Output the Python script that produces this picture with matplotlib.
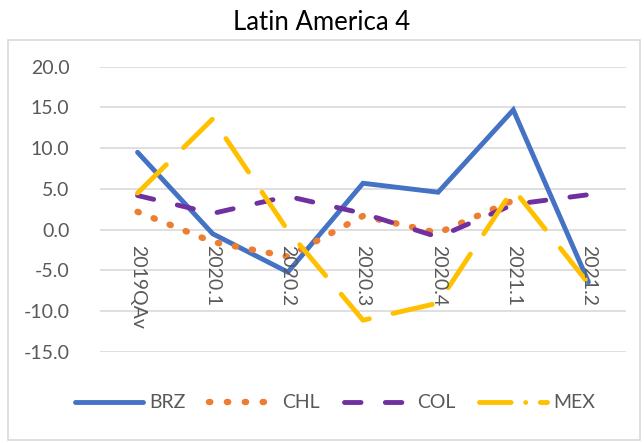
import matplotlib
matplotlib.use("Agg")
import matplotlib.pyplot as plt
from matplotlib.lines import Line2D
from matplotlib.patches import Rectangle
from matplotlib.transforms import offset_copy
import numpy as np

categories = ["2019QAv", "2020.1", "2020.2", "2020.3", "2020.4", "2021.1", "2021.2"]
brz = [9.5, -0.5, -5.2, 5.7, 4.6, 14.7, -6.4]
chl = [2.2, -1.5, -3.3, 1.7, -0.4, 3.6, np.nan]
col = [4.2, 2.0, 4.1, 2.0, -0.9, 3.1, 4.3]
mex = [4.5, 13.6, -0.1, -11.1, -9.0, 5.0, -6.6]
series_names = ["BRZ", "CHL", "COL", "MEX"]
colors = ["#4472C4", "#ED7D31", "#7030A0", "#FFC000"]
yticks = [-15, -10, -5, 0, 5, 10, 15, 20]

plt.rcParams['font.family'] = ['Lato', 'DejaVu Sans']

W, H = 644, 443
fig = plt.figure(figsize=(W / 100, H / 100), dpi=100)
ax = fig.add_axes([100 / W, 1 - 352 / H, 526 / W, (352 - 66.7) / H])

lw = 3.5
dot_style = dict(lw=4.6, dashes=(0.2, 2.5), dash_capstyle='round')
col_style = dict(lw=lw, dashes=(3.4, 5.0), dash_capstyle='round')
mex_style = dict(lw=lw, dashes=(8.3, 5.0), dash_capstyle='round')

x = np.arange(len(categories))
ax.plot(x, brz, color=colors[0], lw=lw, solid_capstyle='round', solid_joinstyle='miter', zorder=3)
ax.plot(x, chl, color=colors[1], zorder=3, **dot_style)
ax.plot(x, col, color=colors[2], zorder=3, **col_style)
ax.plot(x, mex, color=colors[3], zorder=3, **mex_style)

ax.set_xlim(-0.5, len(categories) - 0.5)
ax.set_ylim(-15, 20)
ax.set_yticks(yticks)
ax.set_yticklabels([f"{v:.1f}" for v in yticks], fontsize=14, color="#595959")
ax.set_xticks([])
ax.grid(axis='y', color="#D9D9D9", lw=1.2)
ax.set_axisbelow(True)
for s in ax.spines.values():
    s.set_visible(False)
ax.tick_params(axis='y', length=0, pad=22)

trans = offset_copy(ax.transData, fig=fig, x=0, y=-15, units='dots')
for i, c in enumerate(categories):
    ax.text(i, 0, c, rotation=-90, ha='center', va='top', fontsize=14,
            color="#595959", transform=trans)

fig.text(322 / W, 1 - 22 / H, "Latin America 4", ha='center', va='center',
         fontsize=18.5, color="#000000")

fig.patches.append(Rectangle((8 / W, 1 - 440 / H), 632 / W, 400 / H,
                             transform=fig.transFigure, fill=False,
                             edgecolor="#D9D9D9", lw=1.2))

handles = [
    Line2D([], [], color=colors[0], lw=lw, solid_capstyle='round'),
    Line2D([], [], color=colors[1], lw=4.6, dashes=(0.2, 2.6), dash_capstyle='round'),
    Line2D([], [], color=colors[2], lw=lw, dashes=(3.4, 5.0), dash_capstyle='round'),
    Line2D([], [], color=colors[3], lw=lw, dashes=(6.5, 3.0, 0.01, 3.0), dash_capstyle='round'),
]
fig.legend(handles, series_names, loc='center', bbox_to_anchor=(335 / W, 1 - 403 / H),
           ncol=4, frameon=False, fontsize=14, handlelength=3.5, handletextpad=0.3,
           columnspacing=1.2, labelcolor="#595959")

fig.savefig("out.png", dpi=100)
